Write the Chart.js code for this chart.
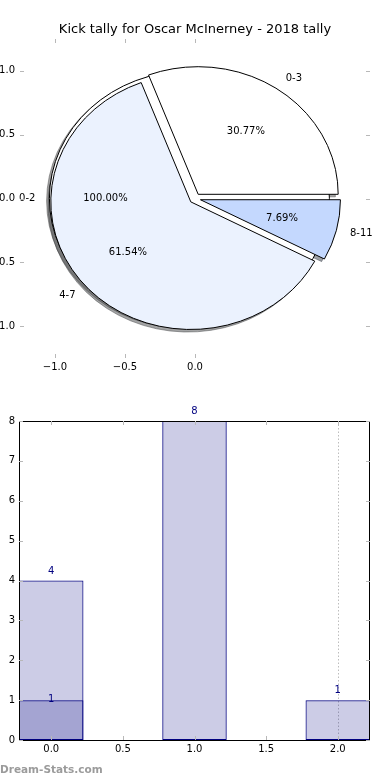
<!DOCTYPE html>
<html>
<head>
<meta charset="utf-8">
<script src="https://cdn.jsdelivr.net/npm/chart.js@4.4.1/dist/chart.umd.min.js"></script>
<style>
  html, body { margin: 0; padding: 0; background: #fff; overflow: hidden; }
  canvas { display: block; }
</style>
</head>
<body>
<canvas id="pieChart" width="390" height="390"></canvas>
<canvas id="barChart" width="390" height="390"></canvas>
<script>
// pie: kicks by quarter-time bucket
const pieLabels = ['0-3', '4-7', '8-11'];
const pieValues = [4, 8, 1];
const pieColors = ['#ffffff', '#ebf2fe', '#c4d8fe'];
// second (background) pie with a single wedge
const outerLabels = ['0-2'];
const outerValues = [1];
const outerColors = ['#ffffff'];
const pieXTicks = [-1.0, -0.5, 0.0];
const pieYTicks = [-1.0, -0.5, 0.0, 0.5, 1.0];

// bars
const barX = [0, 1, 2];
const barKicks = [4, 8, 1];
const darkX = [0];
const darkKicks = [1];
const barXTicks = [0, 0.5, 1.0, 1.5, 2.0];
const barYTicks = [0, 1, 2, 3, 4, 5, 6, 7, 8];
const guideX = [2.0];

Chart.defaults.font.family = '"DejaVu Sans", sans-serif';
Chart.defaults.font.size = 10;
Chart.defaults.color = '#000';

function fmtTick(v) {
    return (v < 0 ? '\u2212' : '') + Math.abs(v).toFixed(1);
}

function setTicks(list) {
    return scale => { scale.ticks = list.map(v => ({ value: v })); };
}

function wedgeList(values) {
    const total = values.reduce((a, b) => a + b, 0);
    let start = 0;
    return values.map(v => {
        const sweep = v / total * 360;
        const w = { t1: start, t2: start + sweep, mid: start + sweep / 2, frac: v / total };
        start += sweep;
        return w;
    });
}

function shade(hex) {
    const n = parseInt(hex.slice(1), 16);
    const r = (n >> 16) & 255, g = (n >> 8) & 255, b = n & 255;
    return `rgba(${Math.round(r * 0.3)},${Math.round(g * 0.3)},${Math.round(b * 0.3)},0.5)`;
}

// draws the (elliptical) pie through the x/y scales, matplotlib-style
const pieDrawer = {
    id: 'pieDrawer',
    beforeDatasetsDraw(chart, args, opts) {
        const xs = chart.scales.x, ys = chart.scales.y, ctx = chart.ctx;
        const rx = xs.getPixelForValue(1) - xs.getPixelForValue(0);
        const ry = ys.getPixelForValue(0) - ys.getPixelForValue(1);

        const wedges = [];
        [[outerLabels, outerValues, outerColors], [pieLabels, pieValues, pieColors]].forEach(([labels, values, colors]) => {
            wedgeList(values).forEach((w, i) => {
                const m = w.mid * Math.PI / 180;
                w.ox = opts.explode * Math.cos(m);
                w.oy = opts.explode * Math.sin(m);
                w.color = colors[i];
                w.label = labels[i];
                wedges.push(w);
            });
        });

        const path = (w, dx, dy) => {
            const cx = xs.getPixelForValue(w.ox + dx), cy = ys.getPixelForValue(w.oy + dy);
            ctx.beginPath();
            if (w.t2 - w.t1 >= 360) {
                ctx.ellipse(cx, cy, rx, ry, 0, 0, Math.PI * 2);
            } else {
                ctx.moveTo(cx, cy);
                ctx.ellipse(cx, cy, rx, ry, 0, -w.t1 * Math.PI / 180, -w.t2 * Math.PI / 180, true);
                ctx.closePath();
            }
        };

        ctx.save();
        ctx.lineWidth = 1;
        ctx.lineJoin = 'miter';
        // shadows first
        wedges.forEach(w => {
            path(w, -0.02, -0.02);
            ctx.fillStyle = shade(w.color);
            ctx.strokeStyle = shade(w.color);
            ctx.fill();
            ctx.stroke();
        });
        wedges.forEach(w => {
            path(w, 0, 0);
            ctx.fillStyle = w.color;
            ctx.strokeStyle = '#000';
            ctx.fill();
            ctx.stroke();
        });

        // labels and percentages
        ctx.fillStyle = '#000';
        ctx.font = '10px "DejaVu Sans"';
        ctx.textBaseline = 'middle';
        wedges.forEach(w => {
            const m = w.mid * Math.PI / 180;
            const lx = w.ox + 1.1 * Math.cos(m), ly = w.oy + 1.1 * Math.sin(m);
            ctx.textAlign = lx > 0 ? 'left' : 'right';
            ctx.fillText(w.label, xs.getPixelForValue(lx), ys.getPixelForValue(ly));
            const px = w.ox + 0.6 * Math.cos(m), py = w.oy + 0.6 * Math.sin(m);
            ctx.textAlign = 'center';
            ctx.fillText((w.frac * 100).toFixed(2) + '%', xs.getPixelForValue(px), ys.getPixelForValue(py));
        });
        ctx.restore();
    }
};

// small inward tick marks on all four sides
const tickMarks = {
    id: 'tickMarks',
    afterDraw(chart, args, opts) {
        const { ctx, chartArea: a } = chart;
        const xs = chart.scales.x, ys = chart.scales.y;
        const len = 4;
        ctx.save();
        ctx.strokeStyle = opts.color || '#b8b8b8';
        ctx.lineWidth = 1;
        ctx.beginPath();
        xs.ticks.forEach(t => {
            const x = Math.round(xs.getPixelForValue(t.value)) + 0.5;
            ctx.moveTo(x, a.top); ctx.lineTo(x, a.top + len);
            ctx.moveTo(x, a.bottom); ctx.lineTo(x, a.bottom - len);
        });
        ys.ticks.forEach(t => {
            const y = Math.round(ys.getPixelForValue(t.value)) + 0.5;
            ctx.moveTo(a.left, y); ctx.lineTo(a.left + len, y);
            ctx.moveTo(a.right, y); ctx.lineTo(a.right - len, y);
        });
        ctx.stroke();
        ctx.restore();
    }
};

new Chart(document.getElementById('pieChart'), {
    type: 'scatter',
    data: { datasets: [] },
    options: {
        responsive: false,
        animation: false,
        plugins: {
            legend: { display: false },
            tooltip: { enabled: false },
            title: {
                display: true,
                text: 'Kick tally for Oscar McInerney - 2018 tally',
                color: '#000',
                font: { size: 13, weight: 'normal' },
                padding: { top: 22, bottom: 1.4 }
            },
            pieDrawer: { explode: 0.04 }
        },
        scales: {
            x: {
                type: 'linear', min: -1.25, max: 1.25,
                afterBuildTicks: setTicks(pieXTicks),
                afterFit: s => { s.height = 32; },
                grid: { display: false, drawTicks: false },
                border: { display: false },
                ticks: { callback: fmtTick, padding: 3, maxRotation: 0, autoSkip: false }
            },
            y: {
                type: 'linear', min: -1.25, max: 1.25,
                afterBuildTicks: setTicks(pieYTicks),
                afterFit: s => { s.width = 20; },
                grid: { display: false, drawTicks: false },
                border: { display: false },
                ticks: { callback: fmtTick, padding: 5, autoSkip: false }
            },
            // empty right axis, keeps the plot (and title) centred
            yRight: {
                type: 'linear', position: 'right', display: true, min: -1.25, max: 1.25,
                afterFit: s => { s.width = 20; },
                grid: { display: false, drawTicks: false },
                border: { display: false },
                ticks: { display: false }
            }
        }
    },
    plugins: [pieDrawer, tickMarks]
});

// frame, dotted guide, value labels, watermark
const barExtras = {
    id: 'barExtras',
    beforeDatasetsDraw(chart) {
        const { ctx, chartArea: a } = chart;
        const xs = chart.scales.x;
        ctx.save();
        ctx.strokeStyle = '#bdbdbd';
        ctx.lineWidth = 1;
        ctx.setLineDash([1.5, 2]);
        guideX.forEach(v => {
            const x = Math.round(xs.getPixelForValue(v)) + 0.5;
            ctx.beginPath();
            ctx.moveTo(x, a.top);
            ctx.lineTo(x, a.bottom);
            ctx.stroke();
        });
        ctx.restore();
    },
    afterDatasetsDraw(chart, args, opts) {
        const { ctx, chartArea: a } = chart;
        ctx.save();
        ctx.strokeStyle = '#000';
        ctx.lineWidth = 1;
        ctx.strokeRect(Math.round(a.left) + 0.5, Math.round(a.top) + 0.5,
            Math.round(a.right - a.left) - 1, Math.round(a.bottom - a.top));
        ctx.fillStyle = '#000080';
        ctx.font = '10px "DejaVu Sans"';
        ctx.textAlign = 'center';
        ctx.textBaseline = 'middle';
        chart.data.datasets.forEach((ds, i) => {
            chart.getDatasetMeta(i).data.forEach((el, j) => {
                ctx.fillText(String(ds.data[j].y), el.x, el.y - opts.offsets[i]);
            });
        });
        ctx.fillStyle = '#9b9b9b';
        ctx.font = 'bold 10.5px "DejaVu Sans"';
        ctx.textAlign = 'left';
        ctx.fillText('Dream-Stats.com', 0, 380);
        ctx.restore();
    }
};

new Chart(document.getElementById('barChart'), {
    type: 'bar',
    data: {
        datasets: [
            {
                data: barX.map((x, i) => ({ x: x, y: barKicks[i] })),
                backgroundColor: 'rgba(0,0,128,0.2)',
                borderColor: '#000080',
                borderWidth: 1,
                borderSkipped: false,
                grouped: false,
                barPercentage: 0.9,
                categoryPercentage: 1
            },
            {
                data: darkX.map((x, i) => ({ x: x, y: darkKicks[i] })),
                backgroundColor: 'rgba(0,0,128,0.2)',
                borderColor: '#000080',
                borderWidth: 1,
                borderSkipped: false,
                grouped: false,
                barPercentage: 0.9,
                categoryPercentage: 1
            }
        ]
    },
    options: {
        responsive: false,
        animation: false,
        layout: { padding: { top: 31, right: 20 } },
        plugins: {
            legend: { display: false },
            tooltip: { enabled: false },
            barExtras: { offsets: [9.5, 1] },
            tickMarks: { color: '#b8b8b8' }
        },
        scales: {
            x: {
                type: 'linear', min: -0.225, max: 2.225, offset: false,
                afterBuildTicks: setTicks(barXTicks),
                afterFit: s => { s.height = 40; },
                grid: { display: false, drawTicks: false, offset: false },
                border: { display: false },
                ticks: { callback: v => v.toFixed(1), padding: 3, maxRotation: 0, autoSkip: false }
            },
            y: {
                type: 'linear', min: 0, max: 8,
                afterBuildTicks: setTicks(barYTicks),
                afterFit: s => { s.width = 19; },
                grid: { display: false, drawTicks: false },
                border: { display: false },
                ticks: { callback: v => String(v), padding: 4, autoSkip: false }
            }
        }
    },
    plugins: [barExtras, tickMarks]
});
</script>
</body>
</html>
